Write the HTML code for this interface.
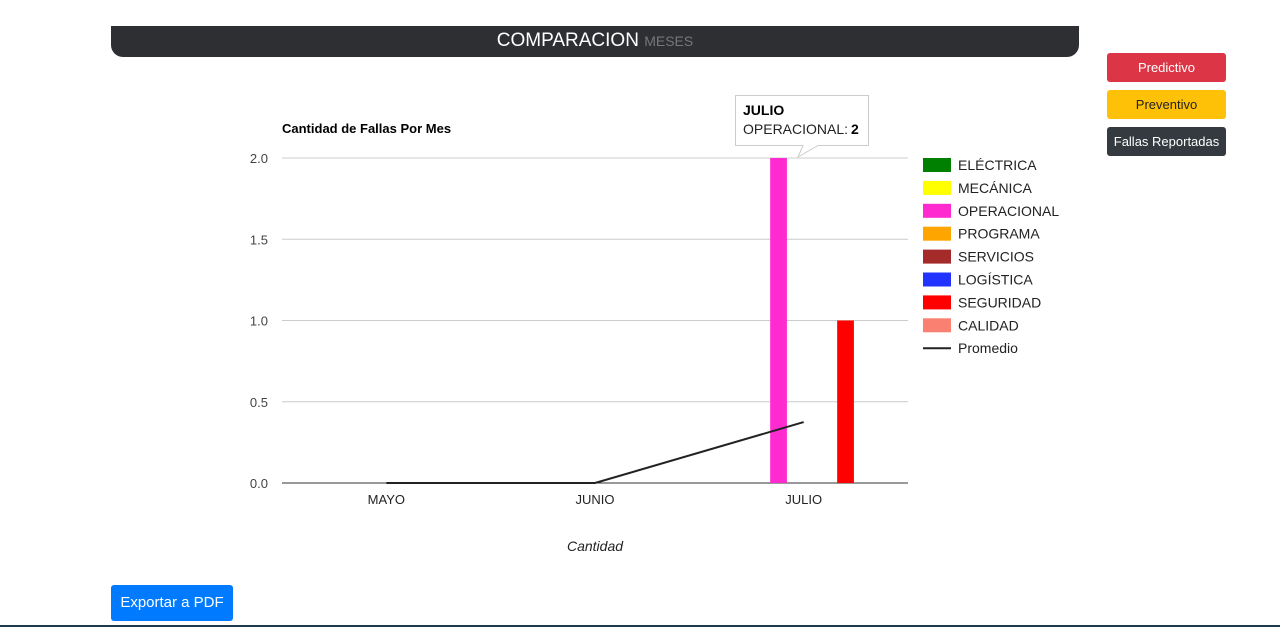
<!DOCTYPE html>
<html><head><meta charset="utf-8"><style>
body{margin:0;width:1280px;height:627px;background:#fff;position:relative;overflow:hidden;font-family:"Liberation Sans","DejaVu Sans",sans-serif;}
.hdr{position:absolute;left:111px;top:26px;width:968px;height:31px;background:#2d2f33;border-radius:0 0 12px 12px;text-align:center;line-height:29px;color:#fff;font-size:19px;}
.hdr span{color:#777;font-size:14px;}
.btn{position:absolute;color:#fff;font-size:13px;text-align:center;border-radius:3px;}
</style></head><body>
<div class="hdr">COMPARACION <span>MESES</span></div>
<div class="btn" style="left:1107px;top:53px;width:119px;height:29px;line-height:29px;background:#dc3545">Predictivo</div>
<div class="btn" style="left:1107px;top:90px;width:119px;height:29px;line-height:29px;background:#ffc107;color:#222">Preventivo</div>
<div class="btn" style="left:1107px;top:127px;width:119px;height:29px;line-height:29px;background:#343a40">Fallas Reportadas</div>
<div class="btn" style="left:111px;top:585px;width:122px;height:36px;line-height:36px;background:#007bff;font-size:15px">Exportar a PDF</div>
<div style="position:absolute;left:0;top:625px;width:1280px;height:2px;background:#1d3b4a"></div>
<svg id="chart" width="1280" height="627" style="position:absolute;left:0;top:0" font-family="Liberation Sans, sans-serif"></svg>
<script>
const categories=["MAYO","JUNIO","JULIO"];
const seriesNames=["ELÉCTRICA","MECÁNICA","OPERACIONAL","PROGRAMA","SERVICIOS","LOGÍSTICA","SEGURIDAD","CALIDAD"];
const seriesColors=["#008000","#ffff00","#ff2ad0","#ffa500","#a52a2a","#2233ff","#ff0000","#fa8072"];
const seriesValues=[[0,0,0],[0,0,0],[0,0,2],[0,0,0],[0,0,0],[0,0,0],[0,0,1],[0,0,0]];
const promedio=[0,0,0.375];
const yTicks=[0,0.5,1,1.5,2];
const yTickLabels=["0.0","0.5","1.0","1.5","2.0"];
const NS="http://www.w3.org/2000/svg";
const svg=document.getElementById('chart');
const L=282,R=908,T=158,B=483,ymax=2;
const y=v=>B-(v/ymax)*(B-T);
const cw=(R-L)/categories.length;
const xc=i=>L+cw*(i+0.5);
const bw=16.75;
function mk(t,a,txt){const e=document.createElementNS(NS,t);for(const k in a)e.setAttribute(k,a[k]);if(txt!==undefined)e.textContent=txt;svg.appendChild(e);return e;}
let e=mk('text',{x:282,y:133,'font-size':13,'font-weight':'bold',fill:'#000'},'Cantidad de Fallas Por Mes');


yTicks.forEach((v,i)=>{
 const g=mk('line',{x1:L,x2:R,y1:y(v),y2:y(v),stroke:v===0?'#333':'#ccc','stroke-width':1});
 
 
 const t=mk('text',{x:268,y:y(v)+5,'font-size':13,fill:'#444','text-anchor':'end'},yTickLabels[i]);
 
 
});
categories.forEach((c,i)=>{
 const t=mk('text',{x:xc(i),y:504,'font-size':13,fill:'#222','text-anchor':'middle'},c);
 
 
 seriesValues.forEach((vals,s)=>{
  if(vals[i]>0){
   const x0=xc(i)-bw*seriesNames.length/2+bw*s;
   const r=mk('rect',{x:x0,y:y(vals[i]),width:bw,height:B-y(vals[i]),fill:seriesColors[s]});
   
   
  }
 });
});
const pl=mk('polyline',{points:promedio.map((v,i)=>xc(i)+','+y(v)).join(' '),fill:'none',stroke:'#222','stroke-width':2});


e=mk('text',{x:595,y:551,'font-size':14,'font-style':'italic',fill:'#222','text-anchor':'middle'},'Cantidad');


seriesNames.concat(['Promedio']).forEach((n,i)=>{
 const yy=165+i*22.9;
 if(i<seriesNames.length){
  const s=mk('rect',{x:923,y:yy-7,width:28,height:14,fill:seriesColors[i]});
  
  
 } else {
  const s=mk('line',{x1:923,x2:951,y1:yy,y2:yy,stroke:'#222','stroke-width':2});
  
  
 }
 const t=mk('text',{x:958,y:yy+5,'font-size':14,fill:'#222'},n);
 
 
});
const tip=mk('path',{d:'M735.5,95.5 H868.5 V145.5 H818 L798,157 L803,145.5 H735.5 Z',fill:'#fff',stroke:'#ccc'});


e=mk('text',{x:743,y:115,'font-size':14,'font-weight':'bold',fill:'#000'},'JULIO');


e=mk('text',{x:743,y:134,'font-size':14,fill:'#222'},'OPERACIONAL: ');


e=mk('text',{x:851,y:134,'font-size':14,'font-weight':'bold',fill:'#000'},String(seriesValues[2][2]));


</script>
</body></html>
